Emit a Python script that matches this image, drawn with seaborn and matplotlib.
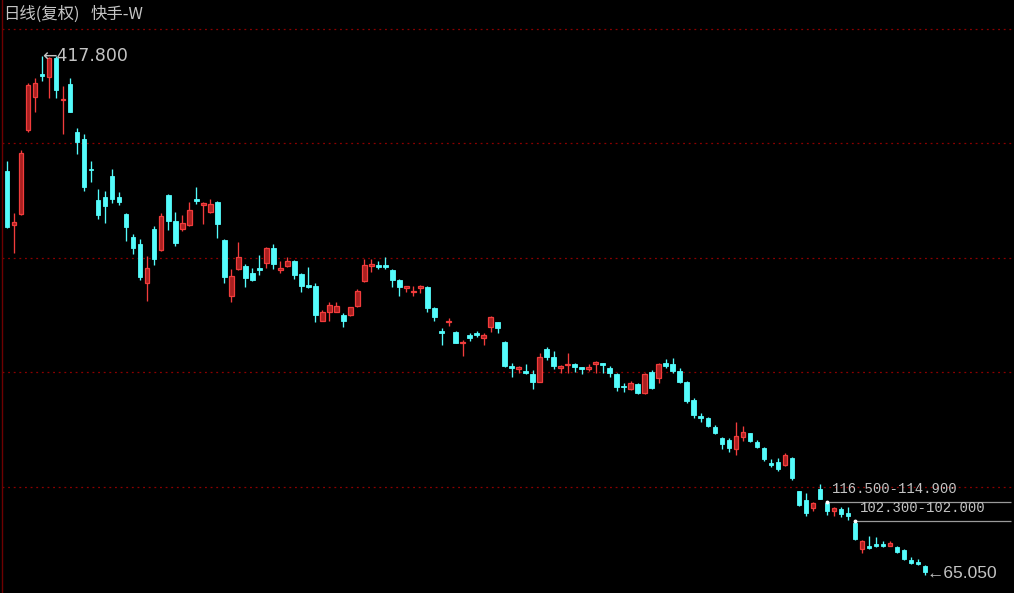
import numpy as np
import pandas as pd
import matplotlib
matplotlib.use("Agg")
import matplotlib.pyplot as plt
import seaborn as sns

# daily candles, oldest first
opens = [339.5, 302.7, 310.2, 367.4, 389.9, 405.5, 403.5, 416.4, 387.8, 398.7,
         366.0, 361.3, 340.5, 319.7, 321.8, 336.1, 321.8, 310.5, 294.5, 289.8,
         263.2, 300.0, 285.7, 323.1, 305.4, 300.0, 302.7, 320.4, 316.3, 311.6,
         318.4, 292.5, 254.4, 272.7, 274.8, 270.0, 273.4, 276.8, 287.0, 272.1,
         274.8, 278.2, 269.3, 261.9, 261.2, 238.0, 244.1, 244.1, 242.1, 242.1,
         248.2, 264.6, 274.8, 275.5, 275.5, 272.1, 265.3, 259.8, 257.1, 259.8,
         260.8, 246.2, 230.9, 236.7, 230.5, 222.4, 228.5, 229.8, 226.4, 233.9,
         236.7, 223.7, 207.4, 205.3, 203.9, 201.9, 196.5, 218.9, 213.5, 206.0,
         207.7, 208.7, 206.4, 205.3, 208.4, 209.0, 206.0, 201.9, 193.8, 191.7,
         195.1, 189.0, 203.3, 199.2, 209.0, 208.7, 203.9, 196.5, 184.2, 173.3,
         172.0, 165.8, 158.3, 157.0, 150.9, 159.0, 161.7, 155.6, 151.5, 141.3,
         142.0, 139.9, 144.7, 121.9, 115.7, 110.5, 123.6, 113.7, 108.3, 110.1,
         106.9, 100.6, 82.6, 84.9, 86.2, 86.2, 84.6, 83.9, 82.0, 75.4,
         74.0, 71.2]
highs = [346.3, 311.4, 353.8, 399.4, 402.8, 417.8, 417.1, 417.5, 397.4, 402.8,
         368.8, 364.7, 346.3, 327.2, 325.9, 340.8, 325.2, 310.9, 296.6, 293.2,
         281.6, 302.0, 310.9, 323.8, 311.6, 309.5, 318.4, 328.6, 318.4, 320.4,
         319.0, 293.2, 272.7, 291.1, 276.1, 273.4, 282.3, 287.7, 289.8, 278.2,
         280.9, 278.9, 270.0, 274.1, 263.2, 245.5, 250.3, 250.3, 242.8, 247.5,
         259.1, 279.6, 279.6, 278.2, 280.9, 272.7, 265.9, 261.5, 261.2, 261.9,
         261.2, 247.5, 232.6, 239.4, 231.2, 224.7, 229.8, 231.2, 229.2, 241.4,
         237.3, 224.0, 209.4, 207.4, 208.7, 204.6, 216.2, 219.9, 217.6, 208.1,
         216.2, 209.4, 206.7, 208.7, 210.8, 209.4, 207.4, 202.6, 195.8, 197.2,
         195.8, 202.6, 204.6, 209.4, 211.8, 212.8, 206.0, 197.2, 185.6, 175.4,
         172.6, 167.2, 159.0, 158.3, 169.2, 166.5, 161.9, 157.0, 152.2, 144.0,
         144.7, 148.1, 145.4, 122.2, 120.7, 114.8, 126.8, 114.9, 111.1, 111.1,
         111.1, 102.0, 88.7, 91.5, 90.8, 88.5, 87.9, 84.6, 82.8, 77.4,
         76.1, 71.8]
lows = [300.8, 284.1, 309.5, 366.0, 379.7, 400.8, 389.2, 389.2, 364.7, 379.5,
        351.1, 325.9, 332.0, 306.8, 304.1, 317.7, 316.7, 291.8, 283.0, 265.3,
        251.6, 275.5, 285.0, 299.3, 288.4, 298.6, 302.0, 317.0, 303.4, 310.9,
        293.9, 263.2, 250.3, 272.1, 260.5, 264.6, 268.7, 273.4, 272.7, 270.0,
        274.1, 265.9, 257.1, 259.8, 236.7, 238.0, 238.0, 243.5, 233.9, 241.4,
        247.5, 263.9, 270.7, 272.7, 272.7, 260.5, 254.4, 257.1, 254.4, 256.4,
        244.1, 238.0, 221.7, 234.6, 222.4, 214.2, 224.4, 227.1, 221.7, 230.5,
        229.8, 206.7, 199.9, 202.6, 201.9, 191.7, 196.5, 211.1, 205.3, 202.6,
        202.3, 203.3, 201.9, 204.0, 202.6, 202.3, 199.9, 190.3, 189.7, 190.7,
        188.0, 188.3, 191.4, 195.8, 206.0, 202.6, 195.8, 182.2, 171.9, 169.2,
        165.8, 161.1, 150.9, 148.8, 146.8, 156.3, 155.6, 151.5, 142.7, 138.6,
        135.9, 139.3, 129.7, 112.0, 105.0, 108.3, 116.5, 105.9, 105.2, 104.2,
        102.3, 88.8, 79.9, 82.9, 84.3, 84.3, 84.6, 80.0, 75.0, 72.8,
        71.8, 65.05]
closes = [301.3, 304.8, 351.7, 398.0, 399.4, 404.2, 416.4, 394.6, 388.9, 379.7,
          359.2, 328.6, 340.2, 309.5, 315.7, 320.4, 318.4, 301.3, 287.0, 267.3,
          273.4, 279.6, 308.8, 305.4, 290.5, 304.1, 313.0, 319.1, 317.7, 317.0,
          303.4, 267.3, 268.0, 280.9, 266.6, 265.3, 272.1, 287.0, 276.1, 273.4,
          278.2, 268.7, 261.2, 260.5, 242.1, 244.1, 248.9, 248.2, 238.0, 246.9,
          258.4, 275.5, 276.1, 274.1, 274.1, 265.3, 260.5, 261.2, 258.4, 261.2,
          246.2, 240.7, 229.2, 238.0, 223.0, 223.7, 226.4, 228.5, 228.5, 240.7,
          233.2, 207.4, 206.0, 206.7, 202.6, 196.5, 213.5, 213.5, 207.4, 207.4,
          208.7, 206.7, 205.3, 206.7, 210.1, 208.1, 202.6, 193.1, 192.7, 195.8,
          189.0, 201.6, 192.4, 208.7, 207.0, 203.9, 196.1, 183.2, 174.0, 172.0,
          166.5, 161.7, 154.2, 151.5, 159.7, 162.4, 156.3, 152.2, 144.0, 139.9,
          137.2, 146.8, 131.1, 112.6, 107.2, 113.7, 117.0, 108.3, 110.5, 106.5,
          105.2, 89.7, 87.9, 83.1, 84.6, 84.6, 86.9, 80.7, 75.7, 73.3,
          72.3, 66.8]

title_left = "日线(复权)"
title_right = "快手-W"
high_label = "←417.800"
low_label = "←65.050"
gap_labels = ["116.500-114.900", "102.300-102.000"]
gap_starts = [117, 121]
gap_levels = [114.9, 102.0]
grid_levels = [125.0, 202.8, 280.6, 358.4, 436.2]

RED = "#f23c3c"
RED_FILL = "#a82020"
CYAN = "#54fcfc"
TEXT = "#c4c4c4"

df = pd.DataFrame({"open": opens, "high": highs, "low": lows, "close": closes})
df["idx"] = np.arange(len(df))
df["up"] = df["close"] >= df["open"]
up = df[df["up"]]
down = df[~df["up"]]

sns.set_theme(style="dark", rc={"axes.facecolor": "black", "figure.facecolor": "black"})
plt.rcParams["font.family"] = ["Noto Sans CJK SC", "DejaVu Sans"]

fig = plt.figure(figsize=(10.14, 5.93), dpi=100)
ax = fig.add_axes([0.002, 0, 0.998, 1])
ax.set_facecolor("black")

x_left, x_right = -0.71, 143.69
ax.set_xlim(x_left, x_right)
ax.set_ylim(52.82, 455.86)

# dotted dark red grid
for g in grid_levels:
    ax.axhline(g, color="#8c0000", lw=0.9, ls=(0, (1.5, 3)), zorder=1)

# wicks
ax.vlines(df["idx"], df["low"], df["high"],
          colors=np.where(df["up"], RED, CYAN), lw=0.95, zorder=2)

# bodies
ax.bar(up["idx"], (up["close"] - up["open"]).clip(lower=0.6), bottom=up["open"],
       width=0.66, color=RED_FILL, edgecolor=RED, linewidth=0.9, zorder=3)
ax.bar(down["idx"], (down["open"] - down["close"]).clip(lower=0.6), bottom=down["close"],
       width=0.66, color=CYAN, edgecolor=CYAN, linewidth=0.6, zorder=3)

# max / min labels
hi = df["high"].idxmax()
lo = df["low"].idxmin()
ax.text(hi, df.loc[hi, "high"], high_label, color=TEXT, fontsize=12.5,
        ha="left", va="center", family=["DejaVu Sans"], zorder=5)
ax.text(lo + 0.2, df.loc[lo, "low"] + 1.0, low_label, color=TEXT, fontsize=12.5,
        ha="left", va="center", family=["Liberation Sans", "DejaVu Sans"], zorder=5)

# gap markers
for start, level, label in zip(gap_starts, gap_levels, gap_labels):
    ax.hlines(level, start, x_right - 0.4, color="#9a9a9a", lw=0.9, zorder=4)
    ax.plot([start], [level], "o", color="white", ms=1.8, zorder=5)
    ax.annotate(label, xy=(start, level), xytext=(5, 6), textcoords="offset pixels",
                color=TEXT, fontsize=10, ha="left", va="bottom",
                family=["Liberation Mono", "DejaVu Sans Mono"], zorder=5)

for side in ["top", "right", "bottom"]:
    ax.spines[side].set_visible(False)
ax.spines["left"].set_color("#6e0000")
ax.spines["left"].set_linewidth(1.0)
ax.set_xticks([])
ax.set_yticks([])
ax.grid(False)

fig.text(3 / 1014, 1 - 14.5 / 593, title_left, color=TEXT, fontsize=11.8, ha="left", va="center")
fig.text(91 / 1014, 1 - 14.5 / 593, title_right, color=TEXT, fontsize=11.8, ha="left", va="center")

fig.savefig("out.png", dpi=100, facecolor="black")
